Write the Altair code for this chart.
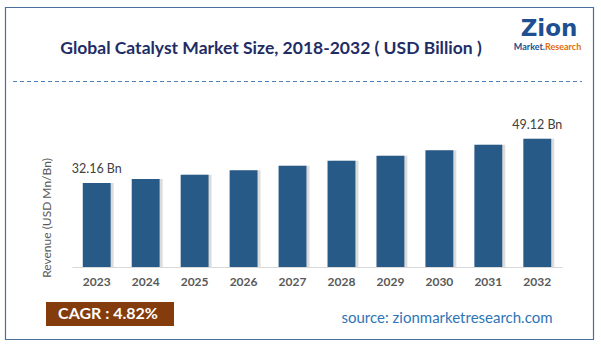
import altair as alt
import pandas as pd

years = ["2023", "2024", "2025", "2026", "2027", "2028", "2029", "2030", "2031", "2032"]
revenue = [32.16, 33.71, 35.33, 37.04, 38.82, 40.69, 42.65, 44.71, 46.87, 49.12]
bar_labels = ["32.16 Bn", "", "", "", "", "", "", "", "", "49.12 Bn"]

title_text = "Global Catalyst Market Size, 2018-2032 ( USD Billion )"
y_title = "Revenue (USD Mn/Bn)"
cagr_text = "CAGR : 4.82%"
source_text = "source: zionmarketresearch.com"

FONT = "Lato"
L, T = 72, 100  # plot origin within the page

df = pd.DataFrame({"year": years, "value": revenue, "label": bar_labels})
one = pd.DataFrame({"k": [0]})

x_enc = alt.X("year:N", sort=years, scale=alt.Scale(paddingInner=0.43, paddingOuter=0.22),
              axis=alt.Axis(title=None, labelAngle=0, labelFont=FONT, labelFontWeight="bold",
                            labelFontSize=12, labelColor="#595959", ticks=False,
                            domainColor="#d9d9d9", domainWidth=1, labelPadding=9))
y_enc = alt.Y("value:Q", scale=alt.Scale(domain=[0, 64]), axis=None)

base = alt.Chart(df)

shadow = base.mark_bar(color="#9a9a9a", opacity=0.35, xOffset=3).encode(x=x_enc, y=y_enc)
bars = base.mark_bar(color="#285a87").encode(x=x_enc, y=y_enc)
labels = base.transform_filter("datum.label != ''").mark_text(
    font=FONT, fontSize=12.5, color="#404040", dy=-10, baseline="alphabetic"
).encode(x=x_enc, y=y_enc, text="label:N")

def txt(text, x, y, font=FONT, **kw):
    return alt.Chart(one).mark_text(text=text, font=font, **kw).encode(
        x=alt.value(x - L), y=alt.value(y - T))

frame = alt.Chart(one).mark_rect(fill=None, stroke="#4a6f9a", strokeWidth=1.2).encode(
    x=alt.value(5.5 - L), x2=alt.value(593.5 - L), y=alt.value(7.5 - T), y2=alt.value(339.5 - T))
dash = alt.Chart(one).mark_rule(color="#4f81bd", strokeDash=[4, 3], strokeWidth=1).encode(
    x=alt.value(13 - L), x2=alt.value(582 - L), y=alt.value(81.5 - T))
title = txt(title_text, 271, 49, fontSize=17.5, fontWeight="bold", color="#1f2d66",
            align="center", baseline="middle")
ytitle = txt(y_title, 47, 218, fontSize=12, color="#595959", angle=270,
             align="center", baseline="middle")
logo1 = txt("Zion", 549, 36, font="DejaVu Sans", fontSize=23, fontWeight="bold",
            color="#1d4f91", align="center", baseline="alphabetic")
logo2 = txt("Market.", 545, 47, fontSize=9, fontWeight="bold", color="#1d4f91",
            align="right", baseline="middle")
logo3 = txt("Research", 545, 47, fontSize=9, fontWeight="bold", color="#e36c09",
            align="left", baseline="middle")
cagr_box = alt.Chart(one).mark_rect(color="#843c0c").encode(
    x=alt.value(46 - L), x2=alt.value(174 - L), y=alt.value(302 - T), y2=alt.value(326 - T))
cagr = txt(cagr_text, 108, 314, fontSize=16, fontWeight="bold", color="white",
           align="center", baseline="middle")
source = txt(source_text, 447, 318, fontSize=15, color="#2e75b6",
             align="center", baseline="middle")

chart = alt.layer(frame, dash, title, logo1, logo2, logo3, shadow, bars, labels, ytitle,
                  cagr_box, cagr, source).properties(
    width=490, height=167,
    autosize=alt.AutoSizeParams(type="none"),
    padding={"left": L, "top": T, "right": 601 - L - 490, "bottom": 348 - T - 167},
    background="white",
).configure_view(stroke=None)

chart.save("out.html", embed_options={"renderer": "svg", "actions": False})
